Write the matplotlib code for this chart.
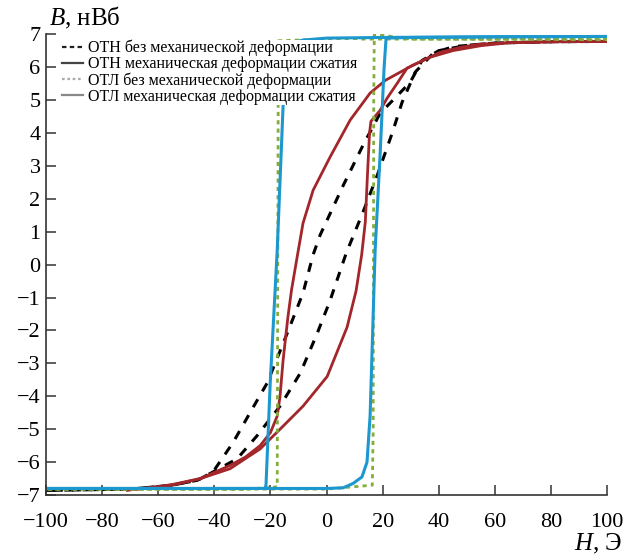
import matplotlib
matplotlib.use("Agg")
import matplotlib.pyplot as plt
from matplotlib.lines import Line2D

plt.rcParams['font.family'] = ['Liberation Serif', 'DejaVu Serif']
plt.rcParams['mathtext.fontset'] = 'custom'
plt.rcParams['mathtext.it'] = 'Liberation Serif:italic'
plt.rcParams['mathtext.rm'] = 'Liberation Serif'

# ОТН без механической деформации (black dashed)
otn_down_h = [100, 80, 60, 50, 40, 34, 29.8, 23.7, 19.1, 13, 5.9, -2.3, -4.8, -8.4, -14.1, -21.2, -27.3, -33.3, -40.5, -46, -55, -70, -100]
otn_down_b = [6.78, 6.77, 6.73, 6.66, 6.5, 6.2, 5.54, 5.0, 4.6, 3.63, 2.4, 0.9, 0.3, -0.86, -2.1, -3.6, -4.5, -5.4, -6.3, -6.55, -6.7, -6.82, -6.86]
otn_up_h = [-100, -70, -55, -46, -40.5, -31.9, -24.8, -16.6, -9.4, -3.4, 1.2, 7, 13, 18, 23.4, 26.9, 31.6, 38, 45, 60, 80, 100]
otn_up_b = [-6.86, -6.82, -6.7, -6.55, -6.3, -5.9, -5.2, -4.3, -3.3, -2.1, -1.1, 0.35, 1.6, 2.7, 4.0, 4.93, 5.85, 6.42, 6.62, 6.73, 6.77, 6.78]

# ОТН механическая деформации сжатия (red)
otn_c_down_h = [100, 80, 65, 55, 47.6, 40.5, 30.8, 21, 15.5, 8.4, 1.25, -4.8, -8.4, -10.5, -12.5, -13.8, -15.5, -16.6, -17.6, -20, -23.7, -29, -34.4, -45, -55, -63, -71]
otn_c_down_b = [6.78, 6.77, 6.74, 6.7, 6.6, 6.45, 6.06, 5.6, 5.21, 4.39, 3.27, 2.26, 1.26, 0.23, -0.77, -1.6, -2.9, -4.0, -4.6, -5.1, -5.5, -5.85, -6.1, -6.5, -6.68, -6.78, -6.85]
otn_c_up_h = [-71, -55, -45, -34.4, -23.7, -16.6, -8.4, 0.2, 7.3, 10.5, 12.5, 13.8, 14.6, 15.3, 15.8, 19.1, 21.6, 25.1, 28.7, 36.9, 45, 55, 65, 80, 100]
otn_c_up_b = [-6.85, -6.7, -6.5, -6.2, -5.6, -5.0, -4.3, -3.4, -1.9, -0.8, 0.3, 1.3, 2.8, 4.0, 4.35, 4.69, 5.06, 5.5, 5.97, 6.3, 6.5, 6.65, 6.74, 6.77, 6.78]

# ОТЛ без механической деформации (green dotted)
otl_up_h = [-100, 0, 16.3, 16.6, 16.8, 17.0, 30, 100]
otl_up_b = [-6.82, -6.82, -6.7, -5.0, 5.0, 7.0, 6.85, 6.83]
otl_down_h = [100, 0, -17.2, -17.4, -17.6, -30, -100]
otl_down_b = [6.85, 6.85, 6.8, 0.0, -6.75, -6.83, -6.83]

# ОТЛ механическая деформации сжатия (blue)
otl_c_up_h = [-100, -60, -20, 0, 5.9, 9.4, 12.6, 14.4, 15.5, 17.3, 19.1, 20.5, 21.2, 30, 60, 100]
otl_c_up_b = [-6.8, -6.8, -6.8, -6.8, -6.78, -6.65, -6.45, -6.0, -4.6, 0.44, 3.4, 6.0, 6.88, 6.9, 6.92, 6.93]
otl_c_down_h = [100, 60, 20, 0, -8.4, -11.5, -12.3, -12.5, -15.5, -17.6, -20.1, -21.6, -22, -40, -100]
otl_c_down_b = [6.93, 6.92, 6.9, 6.88, 6.82, 6.76, 6.73, 6.55, 4.84, 0.44, -3.6, -6.7, -6.8, -6.8, -6.8]

labels = ['ОТН без механической деформации',
          'ОТН механическая деформации сжатия',
          'ОТЛ без механической деформации',
          'ОТЛ механическая деформации сжатия']

fig = plt.figure(figsize=(6.27, 5.6), dpi=100)
ax = fig.add_axes([0.0734, 0.116, 0.895, 0.823])

blue = '#1c98cf'
red = '#a3262a'
green = '#84ae3c'

ax.plot(otn_down_h, otn_down_b, color='black', lw=2.2, ls=(0, (3, 3)))
ax.plot(otn_up_h, otn_up_b, color='black', lw=2.2, ls=(0, (3, 3)))
ax.plot(otn_c_down_h, otn_c_down_b, color=red, lw=2)
ax.plot(otn_c_up_h, otn_c_up_b, color=red, lw=2)
ax.plot(otl_up_h, otl_up_b, color=green, lw=2, ls=(0, (1.5, 1.5)))
ax.plot(otl_down_h, otl_down_b, color=green, lw=2, ls=(0, (1.5, 1.5)))
ax.plot(otl_c_up_h, otl_c_up_b, color=blue, lw=2.2)
ax.plot(otl_c_down_h, otl_c_down_b, color=blue, lw=2.2)

handles = [Line2D([], [], color='#222222', lw=1.6, ls=(0, (2, 1.5))),
           Line2D([], [], color='#444444', lw=1.6),
           Line2D([], [], color='#aaaaaa', lw=1.6, ls=(0, (1.2, 1.2))),
           Line2D([], [], color='#888888', lw=1.6)]
leg = ax.legend(handles, labels, loc='upper left', bbox_to_anchor=(0.0285, 0.988),
                fontsize=11.5, frameon=True,
                framealpha=1, facecolor='white', edgecolor='none', fancybox=False,
                handlelength=1.3, handletextpad=0.3, labelspacing=0.0,
                borderpad=0.0, borderaxespad=0.0)
leg.set_zorder(5)

ax.set_xlim(-100, 100)
ax.set_ylim(-7, 7)
ax.set_xticks(range(-100, 101, 20))
ax.set_yticks(range(-7, 8))
ax.spines['top'].set_visible(False)
ax.spines['right'].set_visible(False)
for s in ['left', 'bottom']:
    ax.spines[s].set_color('#333333')
    ax.spines[s].set_linewidth(1.2)
ax.tick_params(direction='in', length=7, width=1.1, color='#333333', labelsize=16)
ax.tick_params(axis='x', pad=13)
ax.tick_params(axis='y', pad=4)

fig.text(49 / 627, 1 - 25 / 560, r'$B$, нВб', fontsize=18, ha='left', va='baseline')
fig.text(622 / 627, 1 - 550 / 560, r'$H$, Э', fontsize=18, ha='right', va='baseline')

fig.savefig('out.png', dpi=100)
